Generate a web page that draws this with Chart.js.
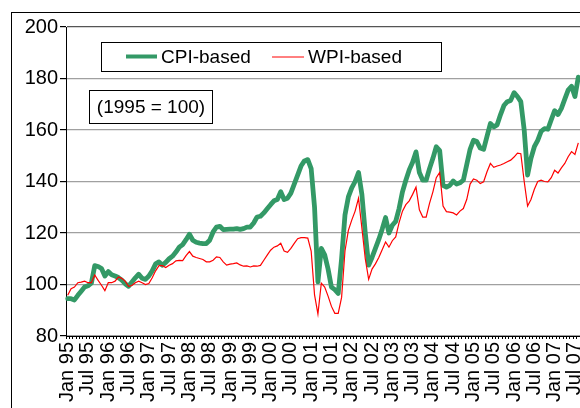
<!DOCTYPE html>
<html>
<head>
<meta charset="utf-8">
<script src="https://cdn.jsdelivr.net/npm/chart.js@4/dist/chart.umd.min.js"></script>
<style>
html,body{margin:0;padding:0;background:#fff;}
#wrap{width:580px;height:408px;overflow:hidden;position:relative;}
canvas{display:block;}
</style>
</head>
<body>
<div id="wrap"><canvas id="c" width="620" height="408"></canvas></div>
<script>
// Category pieces (monthly, Jan 95 onward)
const monthNames = ['Jan','Feb','Mar','Apr','May','Jun','Jul','Aug','Sep','Oct','Nov','Dec'];
const yearLabels = ['95','96','97','98','99','00','01','02','03','04','05','06','07'];

// CPI-based index (1995 = 100), monthly
const cpiBased = [
 94.5,94.5,94,95.8,97.4,99,99.5,100.5,107.3,107,106.2,103.3,
 105,103.8,103.3,102.7,101.7,100.3,99.3,101,102.6,104,102.4,102,
 103.3,105.3,108,108.8,107.5,108.6,110,111,112.6,114.5,115.5,117.4,
 119.5,117.2,116.4,116.1,115.9,115.9,117.2,120.4,122.3,122.6,121.3,121.4,
 121.5,121.5,121.7,121.4,121.7,122.3,122.3,123.9,126.2,126.5,127.8,129.4,
 131,132.5,133,136,133,133.5,135.5,139,142.5,146,148,148.5,
 145,130,101,114,111.5,106,99,98,96.5,110,127,134,
 137.5,140,143.5,135,120,107.5,110.5,114,117.5,121.5,126,120,
 123,124.5,129.5,136,140.5,144.5,147.5,151.5,143.5,140.5,140.5,145,
 149,153.5,152,138.5,137.8,138.5,140.2,139,139.5,140.5,146.5,152.5,
 156,155.5,153,152.5,157.5,162.5,161.2,162,166,169.5,171,171.5,
 174.5,173,171,160,142.5,149,153.5,156,159.5,160.5,160.3,164,
 167.5,166,168.4,172,175.5,177,173,180.5
];

// WPI-based index (1995 = 100), monthly
const wpiBased = [
 95.8,98.4,99,100.7,100.9,101.3,100.7,100.7,103.7,101.6,99.7,97.6,
 100.7,100.7,101.3,102.9,102.4,101.3,99.3,99.6,100.7,101.3,100.7,100,
 100.4,102.6,105.3,107.3,107.3,106.6,107.5,108.1,109.2,109.4,109.3,111.2,
 112.8,111,110.5,110.1,109.7,108.8,108.8,109.4,110.7,110.5,108.8,107.5,
 107.9,108.1,108.4,107.6,107.1,107.2,106.8,107.2,107.1,107.4,109.4,111.4,
 113.3,114.5,115,116,113,112.5,114,116,117.8,118.2,118.2,118,
 113,96,88.5,100.5,99,95.5,91.5,88.8,88.8,95,113,121,
 125,128.5,133.5,122,110,102,106,108,110.5,113.5,116.5,114.5,
 117,118.5,124,128.5,131,132.5,135,137.8,129,126.2,126.2,131.5,
 136,141.5,143.5,130.5,128.3,128.1,127.8,127,128.5,129.5,133,139,
 141,140.5,139.2,139.9,143.8,147,145.5,146,146.4,147,147.7,148.3,
 149.5,151,150.8,140,130.5,133,137,140,140.5,140,139.9,141.5,
 144.4,143.3,145.3,147,149.6,151.6,150.5,155
];

const yTicks = [80,100,120,140,160,180,200];
const legendLabels = ['CPI-based','WPI-based'];
const noteText = '(1995 = 100)';

const categories = [];
for (const y of yearLabels) for (const m of monthNames) {
  if (categories.length < cpiBased.length) categories.push(m + ' ' + y);
}

const FONT = '"Liberation Sans", Arial, sans-serif';
const GREEN = '#339966';
const RED = '#ff0000';

const overlay = {
  id: 'overlay',
  afterDraw(chart) {
    const ctx = chart.ctx;
    ctx.save();
    // outer frame
    ctx.strokeStyle = '#000';
    ctx.lineWidth = 1;
    ctx.strokeRect(11.5, 12.5, 700, 500);
    // legend box
    ctx.fillStyle = '#fff';
    ctx.fillRect(101.5, 42.5, 340, 29);
    ctx.strokeRect(101.5, 42.5, 340, 29);
    ctx.lineCap = 'butt';
    ctx.strokeStyle = GREEN; ctx.lineWidth = 4;
    ctx.beginPath(); ctx.moveTo(126, 56.5); ctx.lineTo(157, 56.5); ctx.stroke();
    ctx.fillStyle = '#000';
    ctx.font = '19px ' + FONT;
    ctx.textBaseline = 'middle';
    ctx.textAlign = 'left';
    ctx.fillText(legendLabels[0], 161, 57.5);
    ctx.textAlign = 'right';
    ctx.fillText(legendLabels[1], 402, 57.5);
    const wStart = 402 - ctx.measureText(legendLabels[1]).width;
    ctx.strokeStyle = RED; ctx.lineWidth = 1;
    ctx.beginPath(); ctx.moveTo(wStart - 36, 57); ctx.lineTo(wStart - 4, 57); ctx.stroke();
    // note box
    ctx.fillStyle = '#fff';
    ctx.fillRect(89.5, 90.5, 123, 33);
    ctx.strokeStyle = '#000';
    ctx.strokeRect(89.5, 90.5, 123, 33);
    ctx.fillStyle = '#000';
    ctx.textAlign = 'center';
    ctx.fillText(noteText, 151, 107.5);
    ctx.restore();
  }
};

new Chart(document.getElementById('c'), {
  type: 'line',
  data: {
    labels: categories,
    datasets: [
      { label: legendLabels[0], data: cpiBased, borderColor: GREEN, backgroundColor: GREEN,
        borderWidth: 4.8, pointRadius: 0, tension: 0, order: 2, borderJoinStyle: 'round', borderCapStyle: 'round' },
      { label: legendLabels[1], data: wpiBased, borderColor: RED, backgroundColor: RED,
        borderWidth: 1.2, pointRadius: 0, tension: 0, order: 1 }
    ]
  },
  options: {
    responsive: false,
    animation: false,
    devicePixelRatio: 1,
    layout: { padding: { top: 27, right: 40, bottom: 0, left: 0 } },
    plugins: { legend: { display: false }, tooltip: { enabled: false } },
    scales: {
      x: {
        type: 'category',
        offset: true,
        border: { color: '#000', width: 1 },
        grid: { display: true, drawOnChartArea: false, drawTicks: true, tickLength: 3, color: '#000', offset: true },
        ticks: {
          autoSkip: false, minRotation: 90, maxRotation: 90, padding: 3,
          color: '#000', font: { family: FONT, size: 20 },
          callback: function(v) {
            const l = this.getLabelForValue(v);
            return (l.startsWith('Jan') || l.startsWith('Jul')) ? l : '';
          }
        },
        afterFit: (s) => { s.height = 72; }
      },
      y: {
        min: yTicks[0], max: yTicks[yTicks.length - 1],
        border: { color: '#000', width: 1 },
        grid: {
          color: (c) => (c.tick && c.tick.value === 200) ? '#555555' : '#a0a0a0',
          tickColor: '#000', tickLength: 6, lineWidth: 1.2
        },
        afterBuildTicks: (s) => { s.ticks = yTicks.map(v => ({ value: v })); },
        ticks: { color: '#000', padding: 2, font: { family: FONT, size: 20 } },
        afterFit: (s) => { s.width = 66; }
      }
    }
  },
  plugins: [overlay]
});
</script>
</body>
</html>
